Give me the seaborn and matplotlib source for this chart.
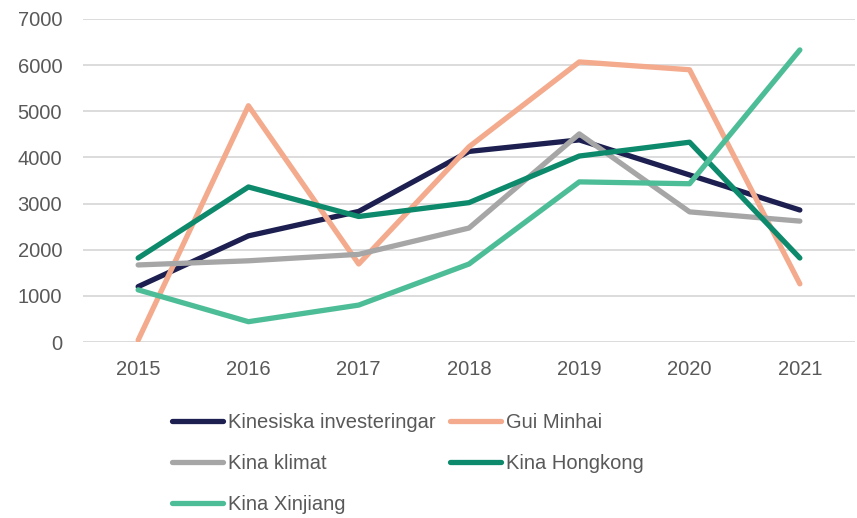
import matplotlib
matplotlib.use("Agg")
import matplotlib.pyplot as plt
import seaborn as sns
import pandas as pd

# ── Data ──────────────────────────────────────────────────────────────────────
years = ["2015", "2016", "2017", "2018", "2019", "2020", "2021"]
investeringar = [1200, 2300, 2830, 4130, 4380, 3620, 2860]
gui_minhai    = [40, 5120, 1690, 4230, 6070, 5900, 1260]
klimat        = [1670, 1760, 1900, 2470, 4510, 2820, 2620]
hongkong      = [1820, 3360, 2720, 3020, 4030, 4330, 1820]
xinjiang      = [1130, 440, 800, 1690, 3470, 3430, 6330]

series = {
    "Kinesiska investeringar": investeringar,
    "Gui Minhai": gui_minhai,
    "Kina klimat": klimat,
    "Kina Hongkong": hongkong,
    "Kina Xinjiang": xinjiang,
}
palette = {
    "Kinesiska investeringar": "#1C1F50",
    "Gui Minhai": "#F4AA8C",
    "Kina klimat": "#A6A6A6",
    "Kina Hongkong": "#0D8A6C",
    "Kina Xinjiang": "#4DBD98",
}

df = pd.DataFrame(
    [(name, y, v) for name, vals in series.items() for y, v in zip(years, vals)],
    columns=["serie", "year", "value"],
)

# ── Style ─────────────────────────────────────────────────────────────────────
sns.set_style("white")
plt.rcParams["font.family"] = ["Liberation Sans", "DejaVu Sans"]
plt.rcParams["ytick.major.pad"] = 15
plt.rcParams["xtick.major.pad"] = 13
FS = 14.5
GREY_TXT = "#595959"

fig = plt.figure(figsize=(8.57, 5.18), dpi=100)
ax = fig.add_axes([83 / 857, 1 - 342 / 518, (855 - 83) / 857, (342 - 19) / 518])

sns.lineplot(data=df, x="year", y="value", hue="serie", palette=palette,
             linewidth=3.8, ax=ax, legend=False, sort=False)
for line in ax.lines:
    line.set_solid_capstyle("round")

ax.set_xlim(-0.5, 6.5)
ax.set_ylim(0, 7000)
ax.set_yticks(range(0, 7001, 1000))
ax.yaxis.grid(True, color="#D9D9D9", linewidth=1.3)
ax.set_axisbelow(True)
for s in ax.spines.values():
    s.set_visible(False)
ax.set_xlabel("")
ax.set_ylabel("")
ax.tick_params(axis="both", length=0, labelsize=FS, colors=GREY_TXT)
ax.tick_params(axis="y", pad=15)
ax.tick_params(axis="x", pad=13)

# legend filled row by row as in the original (matplotlib fills columns)
order = ["Kinesiska investeringar", "Kina klimat", "Kina Xinjiang",
         "Gui Minhai", "Kina Hongkong"]
handles = [plt.Line2D([], [], color=palette[n], linewidth=3.8,
                      solid_capstyle="round") for n in order]
fig.legend(handles, order, ncol=2, frameon=False,
           loc="upper left", bbox_to_anchor=(172 / 857, 1 - 413 / 518),
           fontsize=FS, labelcolor=GREY_TXT, handlelength=2.55,
           handletextpad=0.25, columnspacing=0.7, labelspacing=1.1,
           borderaxespad=0, borderpad=0)

fig.savefig("out.png", dpi=100)
